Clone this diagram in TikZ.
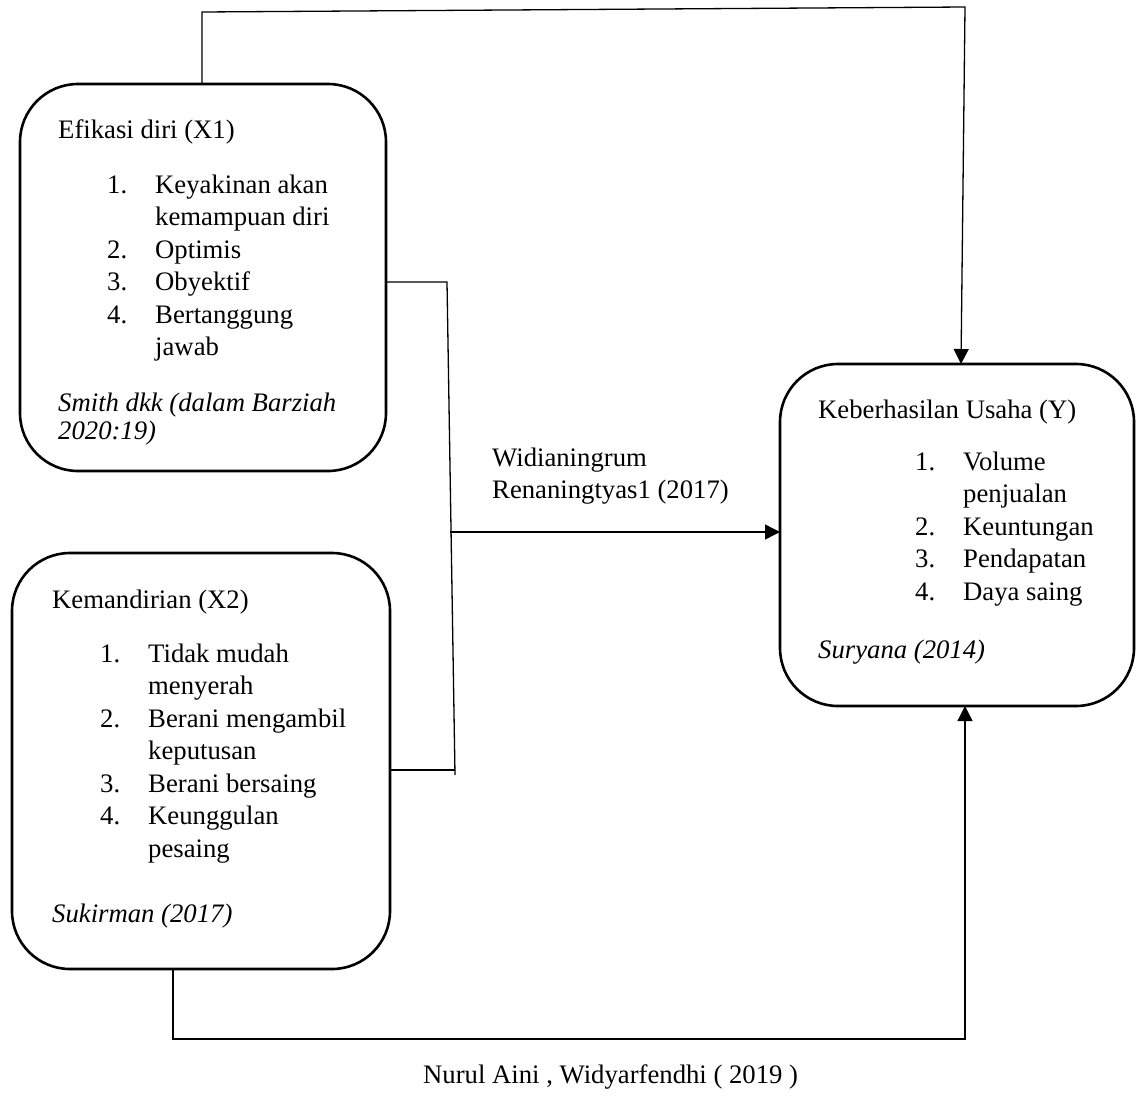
\documentclass[tikz,border=0pt]{standalone}
\usepackage{fontspec}
\setmainfont{Liberation Serif}
\usetikzlibrary{arrows.meta}
\begin{document}
\begin{tikzpicture}[x=1pt,y=-1pt,
  box/.style={draw=black, line width=2.6pt, rounded corners=58pt, outer sep=0pt, inner sep=0pt, anchor=north west},
  txt/.style={anchor=base west, inner sep=0pt, font=\fontsize{26.7}{32}\selectfont},
  itx/.style={anchor=base west, inner sep=0pt, font=\fontsize{26.7}{32}\selectfont\itshape},
  conn/.style={draw=black, line width=1.3pt},
  arr/.style={draw=black, line width=1.3pt, -{Triangle[length=15pt,width=15pt]}}]
\useasboundingbox (0,0) rectangle (1137,1095);

% boxes
\node[box, minimum width=366pt, minimum height=387pt] (b1) at (20,84) {};
\node[box, minimum width=378pt, minimum height=416pt] (b2) at (12,553) {};
\node[box, minimum width=354pt, minimum height=342pt] (Y) at (780,364) {};

% box 1 text
\node[txt] (h1) at (58,138) {Efikasi diri (X1)};
\node[txt] (a1n) at (107,193) {1.};
\node[txt] (a1) at (155,193) {Keyakinan akan};
\node[txt] (a1b) at (155,225.5) {kemampuan diri};
\node[txt] (a2n) at (107,258) {2.};
\node[txt] (a2) at (155,258) {Optimis};
\node[txt] (a3n) at (107,290.5) {3.};
\node[txt] (a3) at (155,290.5) {Obyektif};
\node[txt] (a4n) at (107,323) {4.};
\node[txt] (a4) at (155,323) {Bertanggung};
\node[txt] (a4b) at (155,355.5) {jawab};
\node[itx] (s1) at (58,411) {Smith dkk (dalam Barziah};
\node[itx] (s1b) at (58,439) {2020:19)};

% box 2 text
\node[txt] (h2) at (52,608) {Kemandirian (X2)};
\node[txt] (c1n) at (100,662) {1.};
\node[txt] (c1) at (148,662) {Tidak mudah};
\node[txt] (c1b) at (148,694.5) {menyerah};
\node[txt] (c2n) at (100,727) {2.};
\node[txt] (c2) at (148,727) {Berani mengambil};
\node[txt] (c2b) at (148,759.5) {keputusan};
\node[txt] (c3n) at (100,792) {3.};
\node[txt] (c3) at (148,792) {Berani bersaing};
\node[txt] (c4n) at (100,824.5) {4.};
\node[txt] (c4) at (148,824.5) {Keunggulan};
\node[txt] (c4b) at (148,857) {pesaing};
\node[itx] (s2) at (52,922) {Sukirman (2017)};

% box Y text
\node[txt] (hy) at (818,418) {Keberhasilan Usaha (Y)};
\node[txt] (y1n) at (915,470) {1.};
\node[txt] (y1) at (963,470) {Volume};
\node[txt] (y1b) at (963,502.5) {penjualan};
\node[txt] (y2n) at (915,535) {2.};
\node[txt] (y2) at (963,535) {Keuntungan};
\node[txt] (y3n) at (915,567.5) {3.};
\node[txt] (y3) at (963,567.5) {Pendapatan};
\node[txt] (y4n) at (915,600) {4.};
\node[txt] (y4) at (963,600) {Daya saing};
\node[itx] (sy) at (818,658) {Suryana (2014)};

% middle label and bottom caption
\node[txt] (w1) at (492,466) {Widianingrum};
\node[txt] (w2) at (492,498) {Renaningtyas1 (2017)};
\node[txt] (cap) at (423,1083) {Nurul Aini , Widyarfendhi ( 2019 )};

% connector points
\coordinate (t1) at (202,12);
\coordinate (t2) at (965,7);
\coordinate (t3) at (961,0);
\coordinate (m1) at (447,282);
\coordinate (m2) at (455,775);
\coordinate (m3) at (455,770);
\coordinate (m4) at (450,532);
\coordinate (d1) at (173,1039);
\coordinate (d2) at (965,1039);

% connectors
\draw[arr] (b1.north -| t1) -- (t1) -- (t2) -- (t3 |- Y.north);
\draw[conn] (b1.east |- m1) -- (m1) -- (m2);
\draw[conn] (b2.east |- m3) -- (m3);
\draw[arr] (m4) -- (m4 -| Y.west);
\draw[arr] (b2.south -| d1) -- (d1) -- (d2) -- (d2 |- Y.south);
\end{tikzpicture}
\end{document}
